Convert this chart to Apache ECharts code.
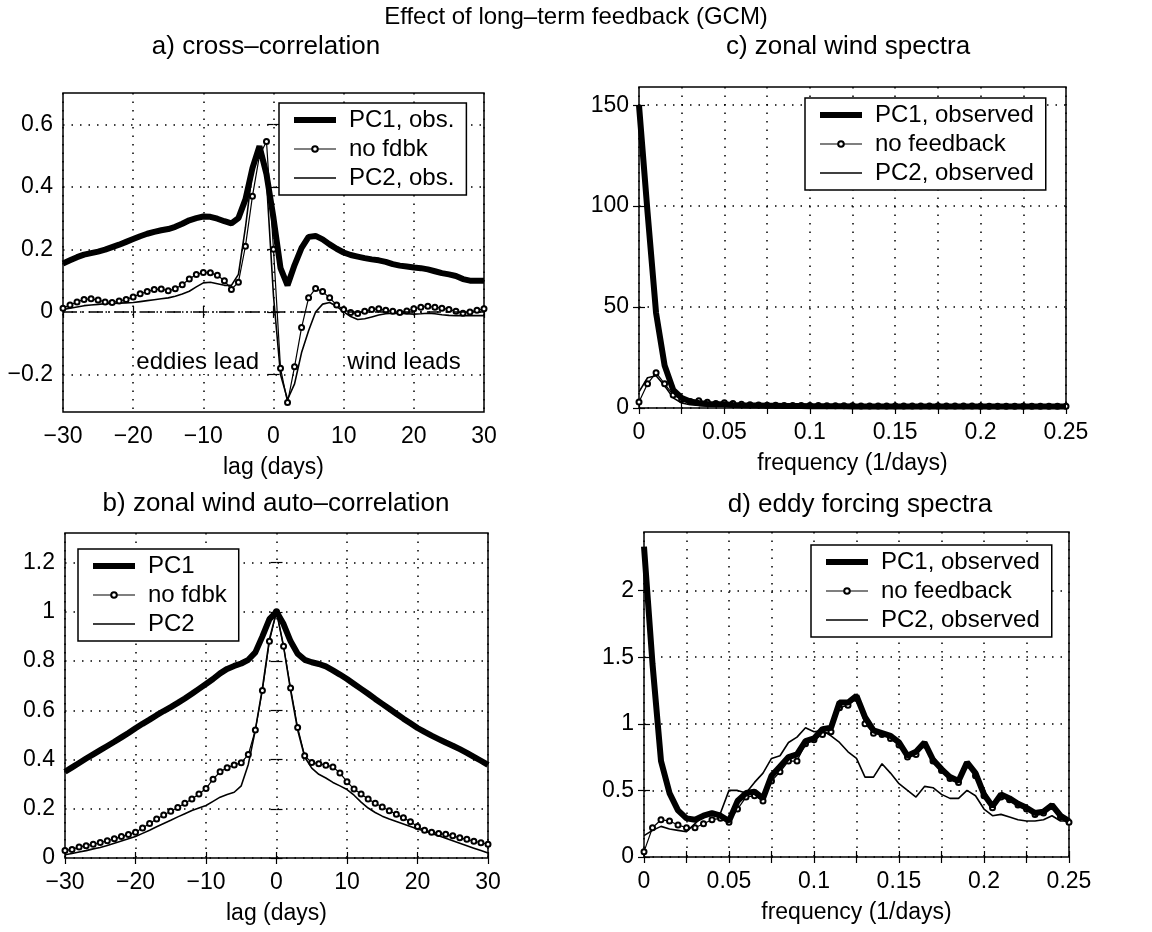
<!DOCTYPE html>
<html><head><meta charset="utf-8">
<script src="https://cdn.jsdelivr.net/npm/echarts@6/dist/echarts.min.js"></script>
<style>html,body{margin:0;padding:0;background:#fff}#c{width:1152px;height:932px}</style>
</head><body><div id="c"></div>
<script>
// ---------- data ----------
const lagDays = [-30,-29,-28,-27,-26,-25,-24,-23,-22,-21,-20,-19,-18,-17,-16,-15,-14,-13,-12,-11,-10,-9,-8,-7,-6,-5,-4,-3,-2,-1,0,1,2,3,4,5,6,7,8,9,10,11,12,13,14,15,16,17,18,19,20,21,22,23,24,25,26,27,28,29,30];

// a) cross-correlation
const crossPC1 = [0.155,0.165,0.175,0.183,0.188,0.193,0.199,0.207,0.215,0.224,0.233,0.242,0.250,0.256,0.261,0.265,0.272,0.282,0.293,0.300,0.305,0.304,0.298,0.290,0.283,0.300,0.360,0.460,0.530,0.440,0.300,0.140,0.085,0.150,0.205,0.240,0.243,0.232,0.216,0.202,0.190,0.182,0.177,0.172,0.168,0.165,0.160,0.153,0.148,0.145,0.142,0.140,0.136,0.130,0.124,0.120,0.115,0.105,0.100,0.100,0.100];
const crossNoFb = [0.012,0.022,0.032,0.040,0.042,0.038,0.032,0.030,0.035,0.040,0.048,0.058,0.065,0.072,0.073,0.068,0.074,0.087,0.105,0.120,0.126,0.125,0.117,0.100,0.072,0.095,0.210,0.370,0.500,0.545,0.200,-0.180,-0.290,-0.175,-0.050,0.045,0.075,0.065,0.045,0.022,0.008,-0.002,-0.005,0.002,0.008,0.010,0.005,0.002,-0.002,0.003,0.010,0.015,0.018,0.015,0.012,0.008,0.002,-0.004,0.000,0.005,0.010];
const crossPC2 = [0.008,0.012,0.016,0.020,0.022,0.024,0.026,0.027,0.028,0.029,0.030,0.033,0.036,0.039,0.042,0.045,0.050,0.057,0.066,0.080,0.093,0.095,0.090,0.085,0.085,0.120,0.270,0.450,0.525,0.420,0.050,-0.200,-0.280,-0.230,-0.130,-0.060,0.000,0.025,0.030,0.018,0.000,-0.015,-0.024,-0.022,-0.016,-0.010,-0.006,-0.004,-0.005,-0.006,-0.007,-0.006,-0.004,-0.006,-0.009,-0.011,-0.012,-0.012,-0.012,-0.012,-0.012];

// b) zonal wind auto-correlation
const autoPC1 = [0.350,0.368,0.386,0.404,0.421,0.438,0.455,0.472,0.490,0.508,0.527,0.545,0.562,0.580,0.597,0.613,0.630,0.648,0.667,0.687,0.707,0.727,0.750,0.768,0.780,0.790,0.805,0.835,0.900,0.970,1.000,0.950,0.880,0.830,0.805,0.795,0.788,0.778,0.762,0.745,0.727,0.707,0.687,0.667,0.646,0.626,0.606,0.586,0.566,0.547,0.528,0.512,0.497,0.483,0.469,0.456,0.442,0.427,0.411,0.395,0.378];
const autoNoFb = [0.030,0.035,0.045,0.050,0.056,0.063,0.070,0.078,0.087,0.095,0.105,0.122,0.140,0.158,0.175,0.190,0.205,0.222,0.240,0.260,0.282,0.320,0.350,0.367,0.378,0.387,0.420,0.520,0.680,0.880,1.000,0.860,0.690,0.530,0.415,0.388,0.383,0.377,0.370,0.345,0.310,0.280,0.260,0.240,0.222,0.207,0.192,0.178,0.163,0.147,0.128,0.113,0.105,0.100,0.096,0.090,0.082,0.076,0.068,0.062,0.056];
const autoPC2 = [0.013,0.018,0.024,0.030,0.037,0.043,0.051,0.060,0.069,0.078,0.087,0.100,0.113,0.127,0.140,0.153,0.167,0.180,0.193,0.203,0.213,0.230,0.247,0.258,0.267,0.293,0.380,0.520,0.690,0.890,1.000,0.860,0.680,0.520,0.410,0.365,0.340,0.325,0.307,0.293,0.278,0.255,0.227,0.203,0.185,0.170,0.158,0.148,0.138,0.128,0.118,0.110,0.100,0.090,0.080,0.070,0.060,0.050,0.040,0.030,0.020];

// frequency (1/days)
const freq = [0,0.005,0.01,0.015,0.02,0.025,0.03,0.035,0.04,0.045,0.05,0.055,0.06,0.065,0.07,0.075,0.08,0.085,0.09,0.095,0.1,0.105,0.11,0.115,0.12,0.125,0.13,0.135,0.14,0.145,0.15,0.155,0.16,0.165,0.17,0.175,0.18,0.185,0.19,0.195,0.2,0.205,0.21,0.215,0.22,0.225,0.23,0.235,0.24,0.245,0.25];

// c) zonal wind spectra
const windPC1 = [150,97,47,21,9,5,3.2,2.5,2.0,1.8,1.8,1.5,1.3,1.2,1.2,1.1,1.1,1.0,1.0,1.0,0.9,0.9,0.9,0.9,0.9,0.8,0.8,0.8,0.8,0.8,0.8,0.8,0.8,0.8,0.8,0.8,0.8,0.8,0.8,0.8,0.8,0.8,0.8,0.8,0.8,0.8,0.8,0.8,0.8,0.8,0.8];
const windNoFb = [3,12,17.5,12,6.5,4.2,3.2,3.6,2.8,2.2,2.6,2.2,1.8,1.6,1.5,1.4,1.4,1.3,1.3,1.2,1.2,1.2,1.1,1.1,1.1,1.1,1.0,1.0,1.0,1.0,1.0,1.0,1.0,1.0,1.0,1.0,1.0,1.0,1.0,1.0,0.9,0.9,0.9,0.9,0.9,0.9,0.9,0.9,0.9,0.9,0.9];
const windPC2 = [8,15,16,11,5,2.5,1.6,1.2,1.0,0.9,0.9,0.8,0.8,0.8,0.8,0.8,0.7,0.7,0.7,0.7,0.7,0.7,0.7,0.7,0.7,0.7,0.7,0.7,0.7,0.7,0.7,0.7,0.7,0.7,0.7,0.7,0.7,0.7,0.7,0.7,0.7,0.7,0.7,0.7,0.7,0.7,0.7,0.7,0.7,0.7,0.7];

// d) eddy forcing spectra
const eddyPC1 = [2.33,1.45,0.72,0.48,0.35,0.29,0.28,0.31,0.33,0.31,0.27,0.42,0.48,0.49,0.44,0.61,0.68,0.75,0.77,0.87,0.89,0.96,0.97,1.16,1.16,1.21,1.05,0.95,0.93,0.91,0.86,0.76,0.79,0.86,0.73,0.66,0.60,0.57,0.71,0.63,0.47,0.38,0.47,0.44,0.40,0.37,0.33,0.34,0.39,0.31,0.27];
const eddyNoFb = [0.04,0.22,0.28,0.27,0.24,0.22,0.22,0.25,0.28,0.29,0.26,0.36,0.45,0.46,0.42,0.57,0.64,0.72,0.72,0.85,0.88,0.92,0.94,1.12,1.14,1.19,1.00,0.93,0.92,0.89,0.84,0.75,0.77,0.84,0.72,0.65,0.59,0.56,0.69,0.61,0.46,0.37,0.45,0.43,0.39,0.36,0.32,0.33,0.38,0.30,0.26];
const eddyPC2 = [0.16,0.20,0.23,0.21,0.20,0.19,0.25,0.31,0.32,0.33,0.50,0.50,0.48,0.56,0.63,0.74,0.76,0.86,0.90,0.97,0.94,0.95,0.91,0.86,0.79,0.74,0.60,0.60,0.70,0.63,0.55,0.50,0.45,0.53,0.52,0.47,0.44,0.44,0.50,0.46,0.36,0.31,0.32,0.30,0.28,0.27,0.27,0.28,0.31,0.27,0.27];

// tick values
const yTicksA = [-0.2,0,0.2,0.4,0.6];
const yTicksB = [0,0.2,0.4,0.6,0.8,1,1.2];
const yTicksC = [0,50,100,150];
const yTicksD = [0,0.5,1,1.5,2];
const freqLabelTicks = [0,0.05,0.1,0.15,0.2,0.25];

// ---------- chart ----------
const FONT = "'Liberation Sans', Arial, Helvetica, sans-serif";
const fmt = v => { const r = Math.round(v * 1000) / 1000; return (r < 0 ? '\u2212' : '') + String(Math.abs(r)); };
const pairs = (xs, ys) => xs.map((x, i) => [x, ys[i]]);

const grids = [
  {left: 63, top: 93, width: 421, height: 319},   // a
  {left: 65, top: 533, width: 423, height: 325},  // b
  {left: 639, top: 87, width: 427, height: 321},  // c
  {left: 644, top: 532, width: 425, height: 325}  // d
].map(g => Object.assign({show: true, borderColor: '#000', borderWidth: 1.5, backgroundColor: '#fff'}, g));

const dotted = {show: true, lineStyle: {color: '#000', width: 1.5, type: [1.5, 7]}};
const labelStyle = {color: '#000', fontSize: 23, fontFamily: FONT, formatter: fmt};

function xAx(grid, kind, top) {
  const base = kind === 'lag'
    ? {min: -30, max: 30, interval: 10}
    : {min: 0, max: 0.25, interval: 0.025};
  const ax = Object.assign({type: 'value', gridIndex: grid, position: top ? 'top' : 'bottom',
    axisLine: {show: false}, axisTick: {show: true, inside: true, length: 6, lineStyle: {color: '#000', width: 1.2}},
    splitLine: top ? {show: false} : dotted,
    axisLabel: top ? {show: false} : Object.assign({margin: 13}, labelStyle)}, base);
  if (!top) {
    ax.name = kind === 'lag' ? 'lag (days)' : 'frequency (1/days)';
    ax.nameLocation = 'middle';
    ax.nameGap = 44;
    ax.nameTextStyle = {color: '#000', fontSize: 23, fontFamily: FONT};
    if (kind !== 'lag') ax.axisLabel.customValues = freqLabelTicks;
  }
  return ax;
}
function yAx(grid, min, max, ticks, right) {
  return {type: 'value', gridIndex: grid, min, max, position: right ? 'right' : 'left',
    axisLine: {show: false},
    axisTick: {show: true, inside: true, length: 6, customValues: ticks, lineStyle: {color: '#000', width: 1.2}},
    splitLine: right ? {show: false} : dotted,
    axisLabel: right ? {show: false, customValues: ticks} : Object.assign({margin: 10, customValues: ticks}, labelStyle)};
}

const xAxis = [xAx(0,'lag'), xAx(1,'lag'), xAx(2,'freq'), xAx(3,'freq'),
               xAx(0,'lag',true), xAx(1,'lag',true), xAx(2,'freq',true), xAx(3,'freq',true)];
const yAxis = [yAx(0,-0.32,0.7,yTicksA), yAx(1,0,1.32,yTicksB), yAx(2,0,159,yTicksC), yAx(3,0,2.44,yTicksD),
               yAx(0,-0.32,0.7,yTicksA,true), yAx(1,0,1.32,yTicksB,true), yAx(2,0,159,yTicksC,true), yAx(3,0,2.44,yTicksD,true)];

function thickS(name, data, i) {
  return {name, type: 'line', xAxisIndex: i, yAxisIndex: i, data, symbol: 'none', z: 4,
    lineStyle: {color: '#000', width: 6}, itemStyle: {color: '#000'}};
}
function markS(name, data, i) {
  return {name, type: 'line', xAxisIndex: i, yAxisIndex: i, data, symbol: 'emptyCircle', symbolSize: 5, z: 3,
    lineStyle: {color: '#000', width: 1.2}, itemStyle: {color: '#000', borderColor: '#000', borderWidth: 1}};
}
function thinS(name, data, i) {
  return {name, type: 'line', xAxisIndex: i, yAxisIndex: i, data, symbol: 'none', z: 2,
    lineStyle: {color: '#000', width: 1.6}, itemStyle: {color: '#000'}};
}

const series = [
  thinS('PC2, obs.', pairs(lagDays, crossPC2), 0),
  markS('no fdbk', pairs(lagDays, crossNoFb), 0),
  Object.assign(thickS('PC1, obs.', pairs(lagDays, crossPC1), 0), {
    markLine: {silent: true, symbol: 'none', label: {show: false}, animation: false,
      lineStyle: {color: '#000', width: 1.5, type: [14, 5, 2, 5]}, data: [{yAxis: 0}]}}),
  thinS('PC2', pairs(lagDays, autoPC2), 1),
  markS('no fdbk', pairs(lagDays, autoNoFb), 1),
  thickS('PC1', pairs(lagDays, autoPC1), 1),
  thinS('PC2, observed', pairs(freq, windPC2), 2),
  markS('no feedback', pairs(freq, windNoFb), 2),
  thickS('PC1, observed', pairs(freq, windPC1), 2),
  thinS('PC2, observed', pairs(freq, eddyPC2), 3),
  markS('no feedback', pairs(freq, eddyNoFb), 3),
  thickS('PC1, observed', pairs(freq, eddyPC1), 3)
];

const hideSym = {opacity: 0};
function legend(names, left, top) {
  return {data: [{name: names[0], itemStyle: hideSym}, {name: names[1]}, {name: names[2], itemStyle: hideSym}],
    left, top, orient: 'vertical', itemGap: 3, itemWidth: 42, itemHeight: 7,
    padding: [4, 12, 4, 12], borderColor: '#000', borderWidth: 1.5, backgroundColor: '#fff', borderRadius: 0,
    selectedMode: false, lineStyle: {width: 'inherit'},
    textStyle: {color: '#000', fontSize: 24, lineHeight: 26, fontFamily: FONT, padding: [0, 0, 0, 8]}};
}

function ttl(text, cx, top, size) {
  return {text, left: cx, top, textAlign: 'center', padding: 0,
    textStyle: {color: '#000', fontSize: size, fontWeight: 'normal', fontFamily: FONT}};
}

const chart = echarts.init(document.getElementById('c'), null, {renderer: 'canvas'});
chart.setOption({
  animation: false,
  backgroundColor: '#fff',
  title: [
    ttl('Effect of long\u2013term feedback (GCM)', 576, 5, 24),
    ttl('a) cross\u2013correlation', 266, 34, 26),
    ttl('c) zonal wind spectra', 848, 34, 26),
    ttl('b) zonal wind auto\u2013correlation', 276, 491, 26),
    ttl('d) eddy forcing spectra', 860, 492, 26)
  ],
  grid: grids,
  xAxis, yAxis, series,
  legend: [
    legend(['PC1, obs.', 'no fdbk', 'PC2, obs.'], 279, 103),
    legend(['PC1', 'no fdbk', 'PC2'], 78, 549),
    legend(['PC1, observed', 'no feedback', 'PC2, observed'], 805, 98),
    legend(['PC1, observed', 'no feedback', 'PC2, observed'], 811, 545)
  ]
});

// text annotations in panel a (data coordinates)
const notesA = [{text: 'eddies lead', lag: -10.8, value: -0.16}, {text: 'wind leads', lag: 18.6, value: -0.16}];
chart.setOption({graphic: notesA.map(n => {
  const p = chart.convertToPixel({gridIndex: 0}, [n.lag, n.value]);
  return {type: 'text', x: p[0], y: p[1], z: 10,
    style: {text: n.text, fill: '#000', font: "24px 'Liberation Sans', Arial, sans-serif", align: 'center', verticalAlign: 'middle',
      backgroundColor: '#fff'}};
})});
</script></body></html>
